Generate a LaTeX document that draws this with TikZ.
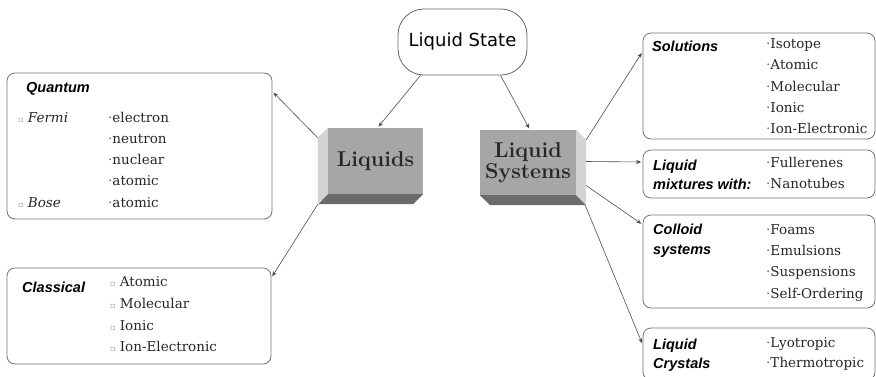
\documentclass[tikz,border=0pt]{standalone}
\usepackage{fontspec}
\setsansfont{Liberation Sans}
\newfontfamily\statefont{DejaVu Sans}
\newfontfamily\itemfont{DejaVu Serif}
\usetikzlibrary{arrows.meta, calc}

% small bullet marks used in the lists
\newcommand\hollow{{\color{black!45}\statefont\fontsize{8pt}{8pt}\selectfont ▫}}
\newcommand\dotb{{\color{black!60}·}}

\begin{document}
\begin{tikzpicture}[x=1pt, y=-1pt, panel/.style={draw=black!55, line
      width=0.8pt, rounded corners=8pt, minimum width=232pt}, front/.style={fill=black!35,
      minimum width=96pt, minimum height=65pt, align=center, text=black!85,
      font=\bfseries\fontsize{21.5pt}{25pt}\selectfont}, sideface/.style={fill=black!17},
    bottomface/.style={fill=black!58}, heading/.style={anchor=west, align=left,
      inner sep=0pt, font=\sffamily\bfseries\itshape\fontsize{14.5pt}{19.5pt}\selectfont},
    item/.style={anchor=west, inner sep=0pt, text height=10pt, text depth=3pt,
      text=black!85, font=\itemfont\fontsize{13.5pt}{16pt}\selectfont},
    link/.style={draw=black!70, line width=0.6pt, -{Stealth[length=5pt, width=4pt]},
      shorten >=1.5pt}, ]

    \clip (0,0) rectangle (876,376);

    % Top oval
    \node[draw=black!60, line width=0.8pt, rounded corners=26pt, minimum width=129pt,
    minimum height=66pt, font=\statefont\fontsize{18pt}{20pt}\selectfont] (state) at
    (462.5,42) {Liquid State};

    % Raised blocks
    \node[front, minimum width=95pt, minimum height=66pt] (liq) at (375.5,161) {Liquids};
    \fill[sideface] (liq.north west) -- ++(-10,10) -- ++(0,66) -- (liq.south west) -- cycle;
    \fill[bottomface] (liq.south west) -- (liq.south east) -- ++(-10,10) -- ++(-95,0) -- cycle;

    \node[front] (sys) at (528,162.5) {Liquid\\[-4pt]Systems};
    \fill[sideface] (sys.north east) -- ++(10,10) -- ++(0,65) -- (sys.south east) -- cycle;
    \fill[bottomface] (sys.south west) -- (sys.south east) -- ++(10,10) -- ++(-96,0) -- cycle;

    % Left boxes
    \node[panel, minimum width=265pt, minimum height=146pt] (quantum) at (139.5,146) {};
    \node[panel, minimum width=264pt, minimum height=96pt] (classical) at (139,316) {};

    % Right boxes
    \node[panel, minimum height=106pt] (solutions) at (759,86) {};
    \node[panel, minimum height=48pt] (mixtures) at (759,174) {};
    \node[panel, minimum height=93pt] (colloid) at (759,261.5) {};
    \node[panel, minimum height=52pt] (crystals) at (759,354) {};

    % Quantum contents
    \node[heading] (quantumhead) at (26,89) {Quantum};
    \node[item] (fermi) at (18,119) {\hollow~\textit{Fermi}};
    \node[item] (bose) at (18,204) {\hollow~\textit{Bose}};
    \foreach \t/\y [count=\i] in {electron/119, neutron/140, nuclear/161, atomic/182}
    \node[item] (fermi\i) at (108,\y) {\dotb\t};
    \node[item] (bose1) at (108,204) {\dotb atomic};

    % Classical contents
    \node[heading] (classicalhead) at (22,287) {Classical};
    \foreach \t/\y [count=\i] in {Atomic/283, Molecular/305, Ionic/327, Ion-Electronic/348}
    \node[item] (classical\i) at (110,\y) {\hollow~\t};

    % Solutions contents
    \node[heading] (solutionshead) at (652,46) {Solutions};
    \foreach \t/\y [count=\i] in {Isotope/45, Atomic/66, Molecular/88, Ionic/109,
      Ion-Electronic/130}
    \node[item] (solutions\i) at (766,\y) {\dotb\t};

    % Mixtures contents
    \node[heading] (mixtureshead) at (653,175) {Liquid\\mixtures with:};
    \foreach \t/\y [count=\i] in {Fullerenes/164, Nanotubes/185}
    \node[item] (mixtures\i) at (766,\y) {\dotb\t};

    % Colloid contents
    \node[heading] (colloidhead) at (653,240.5) {Colloid\\systems};
    \foreach \t/\y [count=\i] in {Foams/231, Emulsions/252, Suspensions/273,
      Self-Ordering/295}
    \node[item] (colloid\i) at (766,\y) {\dotb\t};

    % Crystals contents
    \node[heading] (crystalshead) at (653,355) {Liquid\\Crystals};
    \foreach \t/\y [count=\i] in {Lyotropic/344, Thermotropic/364}
    \node[item] (crystals\i) at (766,\y) {\dotb\t};

    % Arrows from the oval
    \draw[link] ($(state.south)+(-42,0)$) -- ($(liq.north)+(2,0)$);
    \draw[link] ($(state.south)+(38,0)$) -- ($(sys.north)+(2,0)$);

    % Arrows from Liquids
    \draw[link] ($(liq.north west)+(-10,10)$) -- ($(quantum.north east)+(0,19)$);
    \draw[link] ($(liq.south west)+(-10,10)$) -- ($(classical.north east)+(0,10)$);

    % Arrows from Liquid Systems
    \draw[link] ($(sys.north east)+(10,10)$) -- ($(solutions.north west)+(0,19)$);
    \draw[link] ($(sys.east)+(10,-1)$) -- ($(mixtures.west)+(0,-12)$);
    \draw[link] ($(sys.east)+(10,23)$) -- ($(colloid.north west)+(0,10)$);
    \draw[link] ($(sys.south east)+(9,10)$) -- ($(crystals.north west)+(0,17)$);

\end{tikzpicture}
\end{document}
